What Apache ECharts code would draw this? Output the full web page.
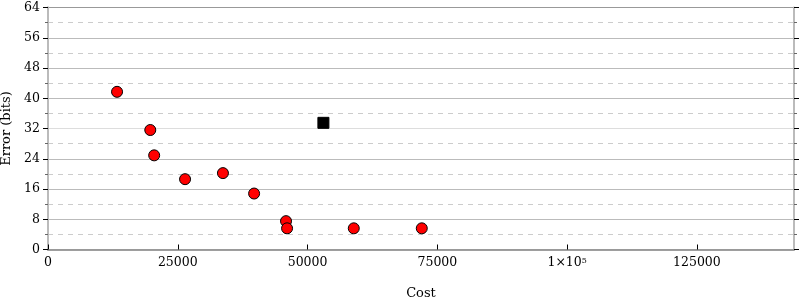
<!DOCTYPE html>
<html><head><meta charset="utf-8">
<script src="https://cdn.jsdelivr.net/npm/echarts@6/dist/echarts.min.js"></script>
<style>html,body{margin:0;padding:0;background:#fff}#c{width:800px;height:300px}</style>
</head><body><div id="c"></div>
<script>
var circleCost = [13300, 19700, 20450, 26400, 33700, 39700, 45850, 46050, 58900, 72000];
var circleError = [41.7, 31.6, 24.9, 18.6, 20.2, 14.8, 7.5, 5.6, 5.6, 5.6];
var squareCost = [53050];
var squareError = [33.5];
var xTicks = [0, 25000, 50000, 75000, 100000, 125000];
var yTicks = [0, 8, 16, 24, 32, 40, 48, 56, 64];

var circles = circleCost.map(function(c, i){ return [c, circleError[i]]; });
var squares = squareCost.map(function(c, i){ return [c, squareError[i]]; });
var font = 'DejaVu Serif';
var chart = echarts.init(document.getElementById('c'), null, {renderer:'canvas'});
function rightAxis(inside){
  return {
    type:'value', min:0, max:64, interval:8, position:'right',
    axisLine:{show:true, lineStyle:{color:'#bbb', width:2}},
    axisTick:{show:true, inside:inside, length:5, lineStyle:{color:'#000'}},
    minorTick:{show:true, splitNumber:2, length:3, lineStyle:{color:'#666'}},
    axisLabel:{show:false}, splitLine:{show:false}
  };
}
chart.setOption({
  animation:false,
  grid:{left:48, right:6, top:7.5, bottom:50.5, containLabel:false, outerBoundsMode:'none'},
  xAxis:[{
    type:'value', min:0, max:143700, interval:25000, position:'bottom',
    name:'Cost', nameLocation:'middle', nameGap:38,
    nameTextStyle:{fontFamily:font, fontSize:13, color:'#000'},
    axisLine:{show:true, lineStyle:{color:'#999', width:1.5}},
    axisTick:{show:true, inside:true, length:5, lineStyle:{color:'#000'}},
    axisLabel:{fontFamily:font, fontSize:12.5, color:'#000', margin:7, showMaxLabel:false,
      formatter:function(v){ return v===100000 ? '1×10{s|5}' : String(v); },
      rich:{s:{fontFamily:font, fontSize:8, verticalAlign:'top', color:'#000', padding:[0,0,4,0]}}},
    splitLine:{show:false}
  },{
    type:'value', min:0, max:143700, position:'top',
    axisLine:{show:true, lineStyle:{color:'#999', width:1.5}},
    axisTick:{show:false}, axisLabel:{show:false}, splitLine:{show:false}
  }],
  yAxis:[{
    type:'value', min:0, max:64, interval:8, position:'left',
    name:'Error (bits)', nameLocation:'middle', nameGap:33,
    nameTextStyle:{fontFamily:font, fontSize:13, color:'#000'},
    axisLine:{show:true, lineStyle:{color:'#bbb', width:2}},
    axisTick:{show:true, inside:false, length:5, lineStyle:{color:'#000'}},
    minorTick:{show:true, splitNumber:2, length:3, lineStyle:{color:'#666'}},
    axisLabel:{fontFamily:font, fontSize:12.5, color:'#000', margin:8},
    splitLine:{show:true, lineStyle:{color:['#999','#bbb','#bbb','#bbb','#ddd','#bbb','#bbb','#bbb','#999'], width:1}},
    minorSplitLine:{show:true, lineStyle:{color:'#ccc', type:[5,5], width:1}}
  }, rightAxis(true), rightAxis(false)],
  series:[{
    type:'scatter', data:circles, symbol:'circle', symbolSize:11,
    itemStyle:{color:'#ff0000', borderColor:'#000', borderWidth:1, opacity:1}
  },{
    type:'scatter', data:squares, symbol:'rect', symbolSize:11,
    itemStyle:{color:'#000', borderColor:'#000', borderWidth:1, opacity:1}
  }]
});
</script></body></html>
